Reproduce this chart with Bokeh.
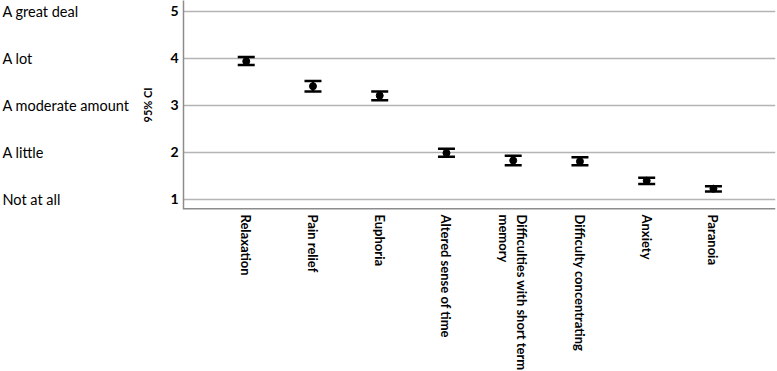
import math
from bokeh.plotting import figure
from bokeh.layouts import row, column
from bokeh.models import Range1d, FixedTicker, ColumnDataSource, Span
from bokeh.core.properties import value
from bokeh.embed import file_html
from bokeh.resources import INLINE

# ---- data ----
categories = ["Relaxation", "Pain relief", "Euphoria", "Altered sense of time",
              "Difficulties with short term\nmemory", "Difficulty concentrating",
              "Anxiety", "Paranoia"]
means = [3.94, 3.41, 3.21, 1.99, 1.83, 1.81, 1.40, 1.23]
upper = [4.03, 3.52, 3.30, 2.08, 1.93, 1.90, 1.46, 1.28]
lower = [3.86, 3.30, 3.11, 1.91, 1.73, 1.73, 1.33, 1.17]
level_values = [5, 4, 3, 2, 1]
level_labels = ["A great deal", "A lot", "A moderate amount", "A little", "Not at all"]

xs = list(range(len(categories)))

TOTAL_W, TOTAL_H = 777, 371
TOP_H = 211          # frame occupies 0..209
LEFT_W = 133
FRAME_LEFT = 183
BOT_H = TOTAL_H - TOP_H

yr = Range1d(0.787, 5.234)
xr = Range1d(-0.94, 7.93)

# ---- left panel: verbal scale ----
p0 = figure(width=LEFT_W, height=TOP_H, output_backend="svg", toolbar_location=None,
            x_range=Range1d(0, LEFT_W), y_range=yr,
            x_axis_type=None, y_axis_type=None,
            min_border_left=0, min_border_right=0, min_border_top=0,
            min_border_bottom=2)
p0.outline_line_color = None
p0.grid.visible = False
lsrc = ColumnDataSource(dict(y=level_values, t=level_labels, x=[2] * len(level_values)))
p0.text(x="x", y="y", text="t", source=lsrc, text_font=value("Lato"),
        text_font_size="14.5px", text_baseline="middle", text_align="left",
        text_color="black")

# ---- main chart ----
p = figure(width=TOTAL_W - LEFT_W, height=TOP_H, output_backend="svg", toolbar_location=None,
           x_range=xr, y_range=yr, x_axis_location=None,
           min_border_left=FRAME_LEFT - LEFT_W, min_border_right=2, min_border_top=0,
           min_border_bottom=2)
p.outline_line_color = None

p.xgrid.visible = False
p.ygrid.ticker = FixedTicker(ticks=level_values)
p.ygrid.grid_line_color = "#b4b4b4"
p.ygrid.grid_line_width = 1.5

ya = p.yaxis[0]
ya.ticker = FixedTicker(ticks=level_values)
ya.major_tick_out = 0
ya.major_tick_in = 0
ya.minor_tick_out = 0
ya.minor_tick_in = 0
ya.axis_line_color = "#8c8c8c"
ya.axis_line_width = 1.5
ya.major_label_text_font = "Lato"
ya.major_label_text_font_style = "bold"
ya.major_label_text_font_size = "14px"
ya.major_label_text_color = "black"
ya.major_label_standoff = 5
ya.axis_label = "95% CI"
ya.axis_label_text_font = "Lato"
ya.axis_label_text_font_style = "bold"
ya.axis_label_text_font_size = "11px"
ya.axis_label_text_color = "black"
ya.axis_label_standoff = 13

# bottom axis line
p.add_layout(Span(location=yr.start, dimension="width", line_color="#8c8c8c", line_width=3))

src = ColumnDataSource(dict(x=xs, m=means, up=upper, lo=lower))
p.segment(x0="x", y0="lo", x1="x", y1="up", source=src, line_color="black", line_width=2.5)
p.scatter(x="x", y="up", source=src, marker="dash", size=17, line_color="black", line_width=2.5)
p.scatter(x="x", y="lo", source=src, marker="dash", size=17, line_color="black", line_width=2.5)
p.scatter(x="x", y="m", source=src, marker="circle", size=7, fill_color="black", line_color="black")

# ---- bottom panel: category labels ----
pb = figure(width=TOTAL_W, height=BOT_H, output_backend="svg", toolbar_location=None,
            x_range=xr, y_range=Range1d(0, BOT_H),
            x_axis_type=None, y_axis_type=None,
            min_border_left=FRAME_LEFT, min_border_right=2, min_border_top=0,
            min_border_bottom=0)
pb.outline_line_color = None
pb.grid.visible = False
csrc = ColumnDataSource(dict(x=xs, t=categories, y=[BOT_H - 3] * len(xs)))
pb.text(x="x", y="y", text="t", source=csrc, angle=-math.pi / 2,
        text_font=value("Lato"), text_font_style="bold", text_font_size="13px",
        text_align="left", text_baseline="middle", text_color="black",
        text_line_height=1.1)

layout = column(row(p0, p, spacing=0), pb, spacing=0)
open("out.html", "w").write(file_html(layout, INLINE))
